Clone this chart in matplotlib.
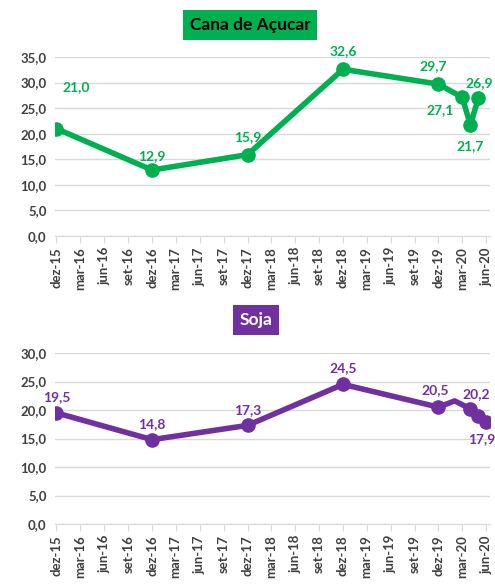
import pandas as pd
import matplotlib
matplotlib.use("Agg")
import matplotlib.pyplot as plt
from matplotlib.ticker import FuncFormatter

plt.rcParams["font.family"] = ["Lato", "DejaVu Sans"]

# --- data ---
cana_dates = ["2015-12-01", "2016-12-01", "2017-12-01", "2018-12-01",
              "2019-12-01", "2020-03-01", "2020-04-01", "2020-05-01"]
cana_vals = [21.0, 12.9, 15.9, 32.6, 29.7, 27.1, 21.7, 26.9]
cana_labels = ["21,0", "12,9", "15,9", "32,6", "29,7", "27,1", "21,7", "26,9"]
cana_offsets = [(14, 30), (0, 10), (0, 13), (0, 13), (-4, 13), (-16, -9), (0, -15), (1, 11)]

soja_dates = ["2015-12-01", "2016-12-01", "2017-12-01", "2018-12-01",
              "2019-12-01", "2020-02-01", "2020-04-01", "2020-05-01", "2020-06-01"]
soja_vals = [19.5, 14.8, 17.3, 24.5, 20.5, 21.6, 20.2, 19.0, 17.9]
soja_labels = ["19,5", "14,8", "17,3", "24,5", "20,5", "", "20,2", "", "17,9"]
soja_offsets = [(0, 11), (0, 11), (0, 11), (0, 12), (-2, 12), (0, 0), (4, 11), (0, 0), (-3, -12)]
soja_markers = [0, 1, 2, 3, 4, 6, 7, 8]

tick_dates = pd.date_range("2015-12-01", "2020-06-01", freq="3MS")
month_pt = {3: "mar", 6: "jun", 9: "set", 12: "dez"}
tick_labels = [f"{month_pt[d.month]}-{d.strftime('%y')}" for d in tick_dates]

GREEN = "#00B050"
PURPLE = "#7030A0"
GRID = "#D9D9D9"
TXT = "#404040"


def draw_panel(ax, dates, vals, labels, offsets, color, ymax, markevery=None):
    x = pd.to_datetime(dates)
    ax.plot(x, vals, color=color, lw=4, marker="o", ms=9.5,
            markevery=markevery, solid_joinstyle="round", zorder=3)
    for xi, v, lab, off in zip(x, vals, labels, offsets):
        if lab:
            ax.annotate(lab, (xi, v), xytext=off, textcoords="offset points",
                        ha="center", va="center", color=color,
                        fontsize=10, fontweight="bold")
    ax.set_ylim(0, ymax)
    ax.set_yticks(range(0, ymax + 1, 5))
    ax.yaxis.set_major_formatter(FuncFormatter(lambda v, p: f"{v:.1f}".replace(".", ",")))
    ax.set_xlim(pd.Timestamp("2015-11-26"), pd.Timestamp("2020-06-15"))
    ax.set_xticks(tick_dates)
    ax.set_xticklabels(tick_labels, rotation=90)
    ax.grid(axis="y", color=GRID, lw=1)
    ax.set_axisbelow(True)
    for s in ["top", "right", "left"]:
        ax.spines[s].set_visible(False)
    ax.spines["bottom"].set_color(GRID)
    ax.tick_params(axis="y", length=0, pad=6, labelsize=9.5, labelcolor=TXT)
    ax.tick_params(axis="x", length=5, color=GRID, labelsize=9.5, labelcolor=TXT, pad=3)
    for t in ax.get_xticklabels() + ax.get_yticklabels():
        t.set_fontweight("bold")


fig = plt.figure(figsize=(4.95, 5.84), dpi=100)
ax1 = fig.add_axes([55 / 495, 1 - 236 / 584, 435 / 495, 179 / 584])
ax2 = fig.add_axes([55 / 495, 1 - 524 / 584, 435 / 495, 171 / 584])

draw_panel(ax1, cana_dates, cana_vals, cana_labels, cana_offsets, GREEN, 35)
draw_panel(ax2, soja_dates, soja_vals, soja_labels, soja_offsets, PURPLE, 30,
           markevery=soja_markers)

fig.text(250 / 495, 1 - 25 / 584, "Cana de Açucar", ha="center", va="center",
         fontsize=12.5, fontweight="bold", color="black",
         bbox=dict(boxstyle="square,pad=0.4", facecolor=GREEN, edgecolor="none"))
fig.text(256 / 495, 1 - 320 / 584, "Soja", ha="center", va="center",
         fontsize=12.5, fontweight="bold", color="white",
         bbox=dict(boxstyle="square,pad=0.4", facecolor=PURPLE, edgecolor="none"))

fig.savefig("out.png", dpi=100)
